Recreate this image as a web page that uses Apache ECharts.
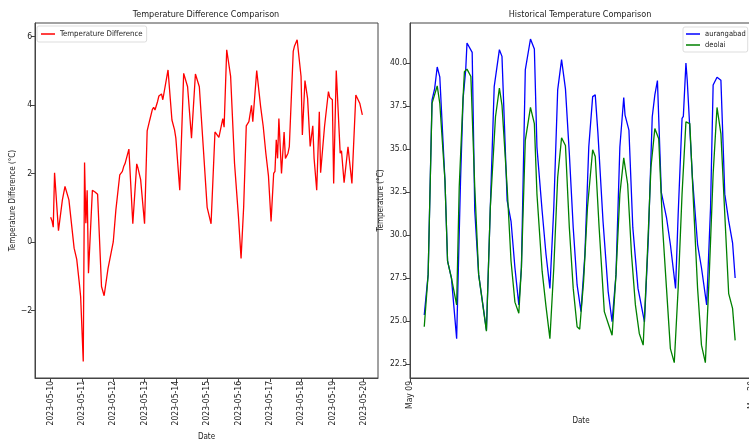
<!DOCTYPE html>
<html>
<head>
<meta charset="utf-8">
<script src="https://cdn.jsdelivr.net/npm/echarts@6/dist/echarts.min.js"></script>
<style>
  html, body { margin: 0; padding: 0; background: #fff; }
  #main { width: 749px; height: 441px; }
</style>
</head>
<body>
<div id="main"></div>
<script>
// left panel: temperature difference, hours after 2023-05-10 00:00
const diffHours = [0, 1, 2, 3, 6, 9, 11, 14, 18, 20, 22, 23, 25, 26, 27, 28, 29, 32, 34, 36,
  39, 41, 44, 48, 50, 53, 55, 56, 57, 60, 63, 66, 67, 69, 72, 74, 76, 78, 79, 80,
  82, 83, 85, 86, 87, 90, 93, 95, 96, 99, 102, 105, 108, 111, 114, 117, 120, 123, 126, 127,
  129, 132, 133, 135, 138, 141, 144, 146, 148, 150, 152, 153, 154, 155, 156, 158, 161, 163, 165, 167,
  169, 171, 172, 173, 174, 175, 177, 179, 180, 182, 183, 186, 187, 189, 192, 193, 195, 197, 199, 201,
  202, 203, 204, 206, 207, 210, 213, 214, 216, 217, 219, 222, 223, 225, 228, 231, 234, 237, 239];
const diffValues = [0.72, 0.62, 0.43, 2.02, 0.33, 1.23, 1.62, 1.23, -0.18, -0.51, -1.21, -1.6, -3.49, 2.32, 0.55, 1.51, -0.91, 1.51, 1.46, 1.39,
  -1.3, -1.57, -0.77, 0.0, 0.93, 1.96, 2.06, 2.2, 2.28, 2.71, 0.53, 2.28, 2.15, 1.82, 0.53, 3.24, 3.56, 3.87, 3.93, 3.85,
  4.1, 4.26, 4.32, 4.15, 4.12, 5.02, 3.56, 3.27, 3.03, 1.51, 4.92, 4.53, 3.03, 4.9, 4.53, 2.78, 1.01, 0.53, 3.21, 3.17,
  3.05, 3.6, 3.35, 5.61, 4.83, 2.29, 0.74, -0.48, 1.03, 3.39, 3.51, 3.56, 3.99, 3.51, 3.56, 5.0, 3.95, 3.37, 2.59, 1.93,
  0.6, 2.0, 2.06, 2.98, 2.44, 3.6, 2.0, 3.21, 2.44, 2.59, 2.78, 5.56, 5.72, 5.9, 4.83, 3.12, 4.71, 4.19, 2.79, 3.39,
  2.44, 2.47, 1.51, 3.8, 2.02, 3.37, 4.39, 4.22, 4.15, 1.71, 5.0, 2.59, 2.66, 1.73, 2.78, 1.71, 4.29, 4.05, 3.71];

// right panel: hours after 2023-05-09 11:00
const aurHours = [0, 3, 6, 8, 10, 12, 16, 18, 21, 23, 25, 28, 30, 32, 33, 37, 39, 42, 48, 51,
  54, 58, 60, 64, 67, 70, 73, 75, 78, 82, 85, 87, 91, 94, 97, 100, 103, 106, 109, 112,
  115, 118, 121, 124, 127, 130, 132, 133, 134, 135, 138, 142, 145, 148, 151, 154, 155, 158, 161, 165,
  170, 173, 176, 178, 180, 183, 187, 190, 194, 196, 199, 200, 202, 203, 204, 207, 211, 214, 218, 221,
  223, 226, 229, 232, 235, 238, 240];
const aurTemps = [25.35, 27.7, 37.85, 38.5, 39.77, 39.2, 33.16, 28.48, 27.5, 25.74, 23.98, 33.16, 37.95, 39.6, 41.17, 40.62, 31.4, 27.7, 24.47, 31.6,
  38.63, 40.78, 40.39, 32.0, 30.8, 28.1, 25.94, 28.1, 39.6, 41.4, 40.82, 35.1, 31.4, 28.87, 26.9, 31.6, 38.44, 40.2, 38.5, 34.73,
  30.43, 27.1, 25.55, 28.87, 35.12, 38.05, 38.15, 38.2, 36.0, 35.9, 30.8, 26.7, 24.96, 27.7, 35.12, 38.0, 36.97, 36.1, 30.43, 26.9,
  24.96, 29.84, 36.88, 38.15, 38.98, 32.48, 31.02, 29.45, 26.9, 31.2, 36.78, 36.9, 40.0, 39.0, 38.93, 33.36, 29.45, 28.1, 25.94, 31.6,
  38.73, 39.18, 39.0, 32.38, 30.82, 29.55, 27.5];

const deoHours = [0, 3, 6, 10, 12, 16, 18, 21, 25, 27, 30, 31, 33, 36, 39, 42, 48, 51, 55, 58,
  60, 64, 67, 70, 73, 75, 78, 82, 85, 87, 91, 94, 97, 100, 103, 106, 109, 112, 115, 118,
  120, 123, 126, 130, 132, 135, 139, 142, 145, 148, 151, 154, 157, 160, 163, 166, 169, 172, 175, 178,
  181, 184, 187, 190, 193, 196, 199, 202, 205, 208, 211, 214, 217, 220, 223, 226, 229, 232, 235, 238, 240];
const deoTemps = [24.67, 27.7, 37.66, 38.67, 37.66, 33.16, 28.48, 27.5, 25.94, 32.8, 38.05, 39.5, 39.65, 39.22, 32.77, 27.7, 24.41, 31.6, 36.88, 38.54,
  37.56, 32.77, 28.48, 26.1, 25.45, 28.1, 35.5, 37.42, 36.48, 32.38, 27.9, 25.84, 23.98, 28.1, 33.36, 35.66, 35.21, 30.43, 26.9, 24.67,
  24.53, 27.3, 31.6, 34.96, 34.57, 30.43, 25.55, 24.86, 24.18, 27.7, 32.38, 34.49, 32.97, 28.87, 25.94, 24.28, 23.6, 28.48, 33.95, 36.19,
  35.6, 30.43, 26.9, 23.4, 22.58, 26.9, 32.38, 36.58, 36.48, 31.6, 26.9, 23.6, 22.58, 27.7, 33.55, 37.42, 35.9, 31.2, 26.6, 25.74, 23.88];

const diffDateLabels = ['2023-05-10', '2023-05-11', '2023-05-12', '2023-05-13', '2023-05-14', '2023-05-15',
  '2023-05-16', '2023-05-17', '2023-05-18', '2023-05-19', '2023-05-20'];
const diffYTicks = [-2, 0, 2, 4, 6];
const histDateLabels = ['May 09', 'May 20'];
const histDateTicks = ['2023-05-09', '2023-05-20'];
const tempTicks = [22.5, 25, 27.5, 30, 32.5, 35, 37.5, 40];

// x positions are hours; each panel counts from its own origin
const HOUR = 3600 * 1000;
const diffOrigin = Date.parse('2023-05-10T00:00:00Z');
const histOrigin = Date.parse('2023-05-09T00:00:00Z');
const histDataStart = Date.parse('2023-05-09T11:00:00Z');
const diffTickX = diffDateLabels.map(d => (Date.parse(d + 'T00:00:00Z') - diffOrigin) / HOUR);
const histTickX = histDateTicks.map(d => (Date.parse(d + 'T00:00:00Z') - histOrigin) / HOUR);
const histOffset = (histDataStart - histOrigin) / HOUR;

const diffData = diffHours.map((h, i) => [h, diffValues[i]]);
const aurData = aurHours.map((h, i) => [h + histOffset, aurTemps[i]]);
const deoData = deoHours.map((h, i) => [h + histOffset, deoTemps[i]]);

const FONT = '"DejaVu Sans Condensed", "Liberation Sans Narrow", Roboto, sans-serif';
const AXIS = '#444';
const TXT = '#222';
const TICK_FS = 8.5;

function minusFmt(v) {
  return v < 0 ? '\u2212' + Math.abs(v) : String(v);
}

const chart = echarts.init(document.getElementById('main'), null, { renderer: 'canvas' });

const option = {
  animation: false,
  backgroundColor: '#fff',
  textStyle: { fontFamily: FONT },
  title: [{
    text: 'Temperature Difference Comparison',
    left: 206, top: 10, textAlign: 'center', padding: 0,
    textStyle: { fontFamily: FONT, fontSize: 9, fontWeight: 'normal', color: TXT }
  }, {
    text: 'Historical Temperature Comparison',
    left: 580, top: 10, textAlign: 'center', padding: 0,
    textStyle: { fontFamily: FONT, fontSize: 9, fontWeight: 'normal', color: TXT }
  }],
  legend: [{
    data: ['Temperature Difference'],
    left: 37, top: 26,
    padding: [4, 4, 4, 4],
    icon: 'rect', itemWidth: 14, itemHeight: 1.5, itemGap: 4,
    backgroundColor: 'rgba(255,255,255,0.8)',
    borderColor: '#ddd', borderWidth: 1, borderRadius: 2,
    textStyle: { fontFamily: FONT, fontSize: 7.8, color: TXT }
  }, {
    data: ['aurangabad', 'deolai'],
    orient: 'vertical',
    left: 683, top: 27,
    padding: [3, 2, 3, 3],
    icon: 'rect', itemWidth: 14, itemHeight: 1.5, itemGap: 3,
    backgroundColor: 'rgba(255,255,255,0.8)',
    borderColor: '#ddd', borderWidth: 1, borderRadius: 2,
    textStyle: { fontFamily: FONT, fontSize: 7.5, color: TXT }
  }],
  grid: [
    { left: 35, top: 23, width: 343, height: 355, outerBoundsMode: 'none', containLabel: false,
      show: true, borderColor: AXIS, borderWidth: 1, backgroundColor: 'transparent' },
    { left: 410, top: 23, width: 342, height: 355, outerBoundsMode: 'none', containLabel: false,
      show: true, borderColor: AXIS, borderWidth: 1, backgroundColor: 'transparent' }
  ],
  xAxis: [{
    type: 'value', gridIndex: 0,
    min: -12, max: 251,
    axisLine: { show: true, onZero: false, lineStyle: { color: AXIS } },
    axisTick: { show: true, customValues: diffTickX, length: 4, lineStyle: { color: AXIS } },
    axisLabel: {
      customValues: diffTickX, rotate: 90, margin: 3,
      fontFamily: FONT, fontSize: TICK_FS, color: TXT,
      formatter: v => diffDateLabels[diffTickX.indexOf(v)] || ''
    },
    splitLine: { show: false },
    name: 'Date', nameLocation: 'middle', nameGap: 55,
    nameTextStyle: { fontFamily: FONT, fontSize: 8, color: TXT }
  }, {
    type: 'value', gridIndex: 1,
    min: histTickX[0], max: histTickX[1],
    axisLine: { show: true, onZero: false, lineStyle: { color: AXIS } },
    axisTick: { show: true, customValues: histTickX, length: 4, lineStyle: { color: AXIS } },
    axisLabel: {
      customValues: histTickX, rotate: 90, margin: 3,
      fontFamily: FONT, fontSize: TICK_FS, color: TXT,
      formatter: v => histDateLabels[histTickX.indexOf(v)] || ''
    },
    splitLine: { show: false },
    name: 'Date', nameLocation: 'middle', nameGap: 38,
    nameTextStyle: { fontFamily: FONT, fontSize: 8, color: TXT }
  }],
  yAxis: [{
    type: 'value', gridIndex: 0,
    min: -3.97, max: 6.39,
    axisLine: { show: true, onZero: false, lineStyle: { color: AXIS } },
    axisTick: { show: true, customValues: diffYTicks, length: 4, lineStyle: { color: AXIS } },
    axisLabel: { customValues: diffYTicks, margin: 3, fontFamily: FONT, fontSize: TICK_FS, color: TXT, formatter: minusFmt },
    splitLine: { show: false },
    name: 'Temperature Difference (\u00b0C)', nameLocation: 'middle', nameGap: 16,
    nameTextStyle: { fontFamily: FONT, fontSize: 8, color: TXT }
  }, {
    type: 'value', gridIndex: 1,
    min: 21.69, max: 42.33,
    axisLine: { show: true, onZero: false, lineStyle: { color: AXIS } },
    axisTick: { show: true, customValues: tempTicks, length: 4, lineStyle: { color: AXIS } },
    axisLabel: { customValues: tempTicks, margin: 3, fontFamily: FONT, fontSize: TICK_FS, color: TXT, formatter: v => v.toFixed(1) },
    splitLine: { show: false },
    name: 'Temperature (\u00b0C)', nameLocation: 'middle', nameGap: 25,
    nameTextStyle: { fontFamily: FONT, fontSize: 8, color: TXT }
  }],
  series: [{
    name: 'Temperature Difference', type: 'line',
    xAxisIndex: 0, yAxisIndex: 0,
    data: diffData, symbol: 'none', showSymbol: false,
    lineStyle: { color: '#ff0000', width: 1.3 }, itemStyle: { color: '#ff0000' }
  }, {
    name: 'aurangabad', type: 'line',
    xAxisIndex: 1, yAxisIndex: 1,
    data: aurData, symbol: 'none', showSymbol: false,
    lineStyle: { color: '#0000ff', width: 1.3 }, itemStyle: { color: '#0000ff' }
  }, {
    name: 'deolai', type: 'line',
    xAxisIndex: 1, yAxisIndex: 1,
    data: deoData, symbol: 'none', showSymbol: false,
    lineStyle: { color: '#008000', width: 1.3 }, itemStyle: { color: '#008000' }
  }]
};

chart.setOption(option);
</script>
</body>
</html>
